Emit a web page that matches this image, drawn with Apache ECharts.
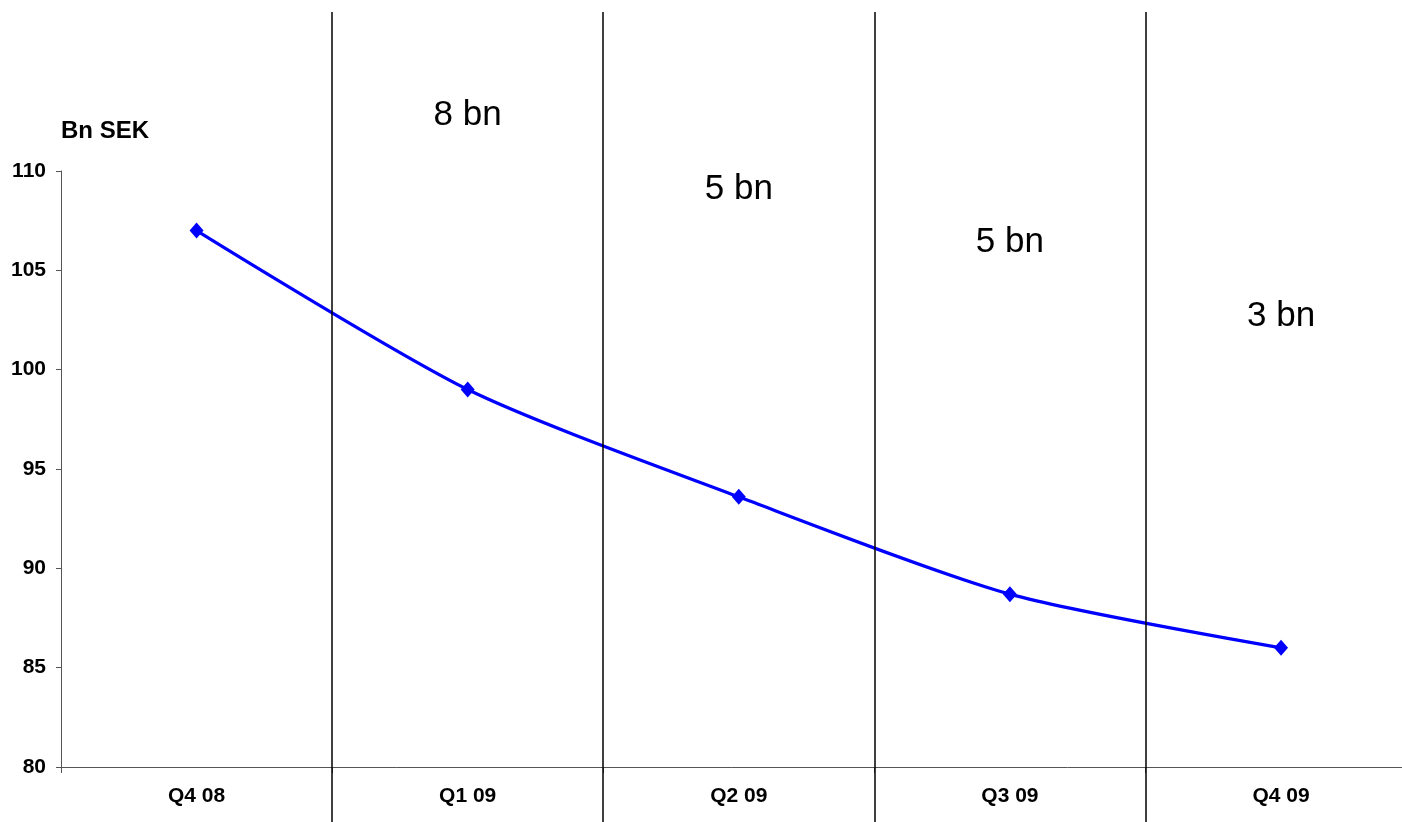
<!DOCTYPE html>
<html><head><meta charset="utf-8">
<script src="https://cdn.jsdelivr.net/npm/echarts@6/dist/echarts.min.js"></script>
<style>html,body{margin:0;padding:0;background:#fff}#c{width:1402px;height:822px}</style>
</head><body><div id="c"></div>
<script>
const categories = ['Q4 08', 'Q1 09', 'Q2 09', 'Q3 09', 'Q4 09'];
const values = [107.0, 99.0, 93.6, 88.7, 86.0];
const yMin = 80, yMax = 110, yInterval = 5;
const annotationLabels = ['8 bn', '5 bn', '5 bn', '3 bn'];
const annotationCategories = ['Q1 09', 'Q2 09', 'Q3 09', 'Q4 09'];
const annotationLevels = [112.8, 109.1, 106.4, 102.7];

const FONT = '"Liberation Sans", Arial, sans-serif';
const chart = echarts.init(document.getElementById('c'), null, {renderer: 'canvas'});
const gridL = 61, gridW = 1355.6;
chart.setOption({
  animation: false,
  backgroundColor: '#fff',
  grid: [
    {left: gridL, width: gridW, top: 171, height: 596, outerBoundsMode: 'none', containLabel: false},
    {left: gridL, width: gridW, top: 12, height: 810, outerBoundsMode: 'none', containLabel: false}
  ],
  xAxis: [
    {
      type: 'category', gridIndex: 0, data: categories, boundaryGap: true,
      axisLine: {show: true, lineStyle: {color: '#555', width: 1}},
      axisTick: {show: true, length: 6, lineStyle: {color: '#555'}},
      axisLabel: {color: '#000', fontFamily: FONT, fontWeight: 'bold', fontSize: 21, margin: 19},
      splitLine: {show: false}
    },
    {
      type: 'category', gridIndex: 1, data: categories, boundaryGap: true, z: 5,
      axisLine: {show: false}, axisTick: {show: false}, axisLabel: {show: false},
      splitLine: {show: true, showMinLine: false, showMaxLine: false, lineStyle: {color: '#000', width: 1.5}}
    }
  ],
  yAxis: [
    {
      type: 'value', gridIndex: 0, min: yMin, max: yMax, interval: yInterval,
      name: 'Bn SEK', nameLocation: 'end', nameGap: 28,
      nameTextStyle: {color: '#000', fontFamily: FONT, fontWeight: 'bold', fontSize: 24, align: 'left'},
      axisLine: {show: true, lineStyle: {color: '#555', width: 1}},
      axisTick: {show: true, length: 5, lineStyle: {color: '#555'}},
      axisLabel: {color: '#000', fontFamily: FONT, fontWeight: 'bold', fontSize: 21, margin: 15},
      splitLine: {show: false}
    },
    {type: 'value', gridIndex: 1, show: false, min: 0, max: 1}
  ],
  series: [{
    type: 'line', xAxisIndex: 0, yAxisIndex: 0, data: values,
    smooth: 0.25,
    symbol: 'diamond', symbolSize: [14, 16],
    itemStyle: {color: '#0000ff'},
    lineStyle: {color: '#0000ff', width: 3.2}
  }]
});

const texts = annotationLabels.map((t, i) => {
  const p = chart.convertToPixel({xAxisIndex: 0, yAxisIndex: 0}, [annotationCategories[i], annotationLevels[i]]);
  return {
    type: 'text', x: p[0], y: p[1], z: 10,
    style: {text: t, fill: '#000', font: '35px ' + FONT, textAlign: 'center', textVerticalAlign: 'middle'}
  };
});
chart.setOption({graphic: texts});
</script></body></html>
